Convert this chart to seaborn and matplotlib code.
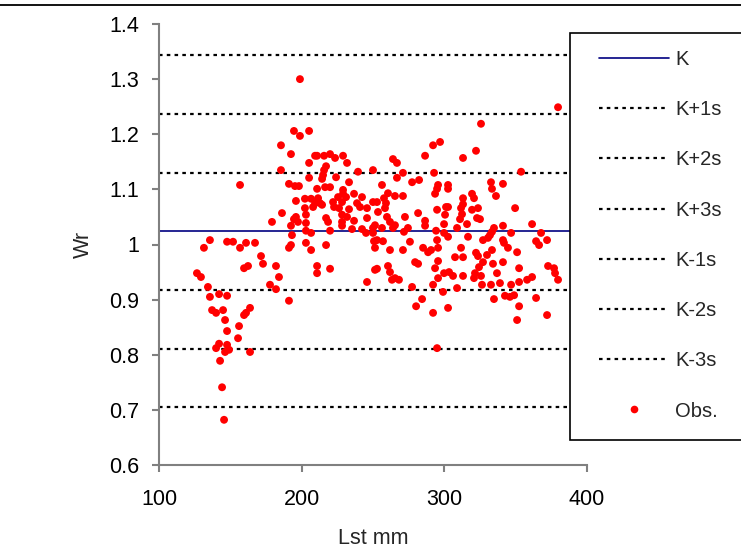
import matplotlib
matplotlib.use("Agg")
import matplotlib.pyplot as plt
import seaborn as sns
import pandas as pd
from matplotlib.lines import Line2D
from matplotlib.patches import Rectangle
from matplotlib.ticker import FuncFormatter

# ---- data ----
lst_mm = [
    126.6, 129.4, 131.5, 135.7, 134.3, 135.7, 137.2, 140.0, 142.1, 147.7,
    144.9, 146.3, 147.7, 156.1, 155.4, 159.6, 161.0, 163.8, 140.0, 142.1,
    147.7, 149.1, 146.3, 142.8, 163.8, 144.2, 145.6, 147.7, 151.9, 156.8,
    159.6, 162.4, 161.0, 167.3, 171.5, 172.9, 182.0, 184.1, 177.8, 182.0,
    191.1, 179.2, 186.2, 156.8, 185.5, 192.5, 185.5, 191.1, 195.3, 198.1,
    194.6, 198.8, 205.2, 198.8, 191.1, 192.5, 192.5, 193.2, 196.0, 194.6,
    197.4, 196.0, 202.3, 202.3, 206.6, 203.0, 203.0, 203.0, 206.6, 203.0,
    206.6, 205.2, 205.2, 209.4, 210.8, 215.7, 219.9, 223.4, 229.0, 231.8,
    217.1, 215.7, 215.0, 214.3, 224.1, 233.2, 239.5, 250.0, 210.8, 216.4,
    219.9, 229.0, 229.0, 225.5, 231.1, 236.7, 242.3, 208.0, 211.5, 212.9,
    209.4, 222.0, 228.3, 238.8, 245.8, 250.0, 222.7, 226.2, 233.2, 240.9,
    214.3, 217.1, 218.5, 228.3, 228.3, 228.3, 231.8, 236.7, 245.8, 219.9,
    235.3, 242.3, 245.1, 250.0, 217.1, 210.8, 210.8, 219.9, 250.7, 251.4,
    245.8, 252.8, 253.5, 258.4, 259.8, 261.9, 265.4, 264.0, 256.3, 251.4,
    252.8, 257.0, 251.4, 261.9, 271.0, 275.9, 252.8, 260.5, 261.9, 263.3,
    265.4, 268.2, 256.3, 260.5, 257.7, 259.1, 265.4, 264.0, 266.8, 266.8,
    271.0, 271.0, 272.4, 274.5, 271.7, 250.0, 277.4, 282.3, 281.6, 286.5,
    286.5, 286.5, 292.1, 297.0, 292.8, 294.9, 295.6, 302.6, 302.6, 293.5,
    294.9, 301.2, 302.6, 300.5, 299.8, 294.2, 299.8, 302.6, 294.9, 295.6,
    285.1, 288.6, 290.7, 279.5, 281.6, 295.6, 293.5, 277.4, 292.1, 295.6,
    299.8, 303.3, 306.1, 308.9, 299.1, 284.4, 280.2, 302.6, 292.1, 294.9,
    308.9, 313.1, 322.2, 325.7, 313.1, 319.4, 320.8, 313.1, 311.7, 312.4,
    311.0, 315.9, 319.4, 323.6, 322.9, 325.0, 316.6, 311.7, 307.5, 313.1,
    322.2, 323.6, 329.9, 333.4, 327.1, 330.6, 332.0, 334.8, 333.4, 332.7,
    341.1, 333.4, 336.2, 341.1, 346.8, 341.1, 341.8, 344.6, 351.0, 349.6,
    353.8, 327.1, 334.1, 341.1, 324.3, 313.1, 321.5, 320.8, 325.7, 336.9,
    326.4, 332.7, 339.0, 346.8, 352.4, 352.4, 358.0, 361.5, 334.8, 342.5,
    346.0, 348.9, 352.4, 364.3, 372.0, 351.0, 361.5, 367.8, 364.3, 366.4,
    372.0, 372.7, 376.9, 377.6, 379.7, 379.7,
]
wr = [
    0.948, 0.941, 0.994, 1.008, 0.923, 0.905, 0.881, 0.876, 0.910, 0.907,
    0.881, 0.863, 0.843, 0.852, 0.830, 0.872, 0.876, 0.885, 0.812, 0.820,
    0.818, 0.809, 0.805, 0.789, 0.805, 0.741, 0.682, 1.005, 1.005, 0.994,
    0.957, 0.961, 1.003, 1.003, 0.979, 0.965, 0.961, 0.941, 0.927, 0.919,
    0.898, 1.041, 1.057, 1.108, 1.180, 1.164, 1.135, 1.110, 1.106, 1.106,
    1.206, 1.197, 1.206, 1.300, 0.994, 0.999, 1.034, 1.017, 1.079, 1.046,
    1.041, 1.050, 1.066, 1.083, 1.083, 1.054, 1.039, 1.025, 1.021, 1.003,
    0.990, 1.148, 1.121, 1.161, 1.161, 1.161, 1.164, 1.157, 1.161, 1.148,
    1.142, 1.135, 1.126, 1.119, 1.122, 1.113, 1.132, 1.135, 1.101, 1.104,
    1.104, 1.099, 1.092, 1.086, 1.086, 1.092, 1.086, 1.068, 1.084, 1.075,
    1.075, 1.077, 1.077, 1.075, 1.066, 1.077, 1.068, 1.066, 1.064, 1.068,
    1.072, 1.048, 1.041, 1.054, 1.041, 1.034, 1.050, 1.043, 1.048, 1.025,
    1.028, 1.028, 1.021, 1.030, 0.999, 0.961, 0.948, 0.956, 1.006, 0.954,
    0.932, 1.077, 1.059, 1.066, 1.050, 1.041, 1.035, 1.030, 1.030, 1.035,
    1.008, 1.006, 0.994, 0.990, 0.990, 1.005, 0.956, 0.961, 0.950, 0.936,
    0.939, 0.936, 1.108, 1.093, 1.084, 1.075, 1.088, 1.155, 1.148, 1.121,
    1.130, 1.088, 1.050, 1.030, 1.023, 1.021, 1.113, 1.117, 1.057, 1.043,
    1.034, 1.161, 1.180, 1.186, 1.130, 1.101, 1.108, 1.108, 1.101, 1.092,
    1.063, 1.068, 1.068, 1.054, 1.037, 1.025, 1.021, 1.014, 1.008, 0.994,
    0.994, 0.986, 0.990, 0.968, 0.965, 0.970, 0.957, 0.923, 0.927, 0.939,
    0.948, 0.950, 0.943, 0.921, 0.914, 0.901, 0.888, 0.885, 0.876, 0.812,
    1.030, 1.157, 1.170, 1.219, 1.084, 1.092, 1.084, 1.073, 1.066, 1.055,
    1.046, 1.037, 1.063, 1.066, 1.048, 1.046, 1.014, 0.994, 0.977, 0.977,
    0.985, 0.979, 0.981, 0.990, 1.008, 1.012, 1.017, 1.030, 1.023, 1.113,
    1.110, 1.101, 1.088, 1.034, 1.021, 1.008, 1.003, 0.994, 0.986, 1.066,
    1.132, 0.968, 0.965, 0.968, 0.959, 0.943, 0.948, 0.939, 0.943, 0.948,
    0.927, 0.927, 0.930, 0.927, 0.932, 0.957, 0.936, 0.941, 0.901, 0.907,
    0.905, 0.908, 0.888, 0.903, 0.872, 0.863, 1.037, 1.021, 1.006, 0.999,
    1.008, 0.961, 0.957, 0.948, 0.936, 1.249,
]
level_labels = ["K", "K+1s", "K+2s", "K+3s", "K-1s", "K-2s", "K-3s"]
level_values = [1.024, 1.130, 1.237, 1.343, 0.918, 0.811, 0.705]
x_ticks = [100, 200, 300, 400]
y_ticks = [0.6, 0.7, 0.8, 0.9, 1.0, 1.1, 1.2, 1.3, 1.4]

df = pd.DataFrame({"Lst": lst_mm, "Wr": wr})

sns.set_theme(style="white")
plt.rcParams["font.family"] = ["Liberation Sans", "DejaVu Sans"]

W, H = 741, 553
fig = plt.figure(figsize=(W / 100, H / 100), dpi=100)
ax = fig.add_axes([159 / W, 1 - 465 / H, (587 - 159) / W, (465 - 24) / H])
ax.set_facecolor("white")

# reference lines
handles = []
for lab, val in zip(level_labels, level_values):
    if lab == "K":
        h = ax.axhline(val, color="#000080", lw=1.2, zorder=2, label=lab)
    else:
        h = ax.axhline(val, color="black", lw=1.6, ls=(0, (1.6, 1.9)), zorder=2, label=lab)
    handles.append(h)

sns.scatterplot(data=df, x="Lst", y="Wr", ax=ax, color="#ff0000", s=32,
                edgecolor="none", linewidth=0, zorder=3, label="Obs.", legend=False)
handles.append(Line2D([], [], ls="none", marker="o", color="#ff0000",
                      markersize=5.5, markeredgewidth=0))

ax.set_xlim(100, 400)
ax.set_ylim(0.6, 1.4)
ax.set_xticks(x_ticks)
ax.set_yticks(y_ticks)
ax.yaxis.set_major_formatter(FuncFormatter(lambda v, p: f"{v:g}"))

for side in ["top", "right"]:
    ax.spines[side].set_visible(False)
for side in ["left", "bottom"]:
    ax.spines[side].set_color("#808080")
    ax.spines[side].set_linewidth(1.5)
ax.tick_params(axis="both", direction="out", length=5, width=1.5, color="#808080",
               labelsize=15.5, labelcolor="black", bottom=True, left=True)
ax.tick_params(axis="x", pad=12)
ax.tick_params(axis="y", pad=9)
ax.set_xlabel("Lst mm", fontsize=15.5, labelpad=13)
ax.set_ylabel("Wr", fontsize=15.5, labelpad=11)

# legend box
fig.add_artist(Rectangle((570 / W, 1 - 440 / H), (W - 570) / W + 0.01, (440 - 33) / H,
                         transform=fig.transFigure, facecolor="white", edgecolor="black",
                         lw=1.2, zorder=4))
fig.legend(handles=handles, labels=level_labels + ["Obs."], loc="upper left",
           bbox_to_anchor=(599 / W, 1 - 50 / H), frameon=False, fontsize=14.5,
           handlelength=3.48, handletextpad=0.3, labelspacing=1.55, borderpad=0,
           borderaxespad=0)

# outer chart-area border (top)
fig.add_artist(Line2D([0, 1], [1 - 4.5 / H, 1 - 4.5 / H], transform=fig.transFigure,
                      color="black", lw=1.3))

fig.savefig("out.png", dpi=100)
